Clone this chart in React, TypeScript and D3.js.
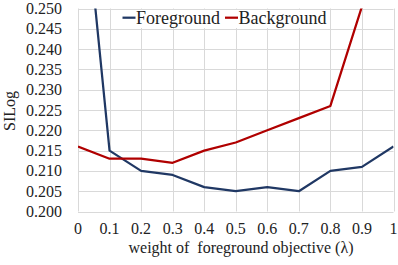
import { useEffect, useRef } from "react";
import * as d3 from "d3";

const lambdas = [0, 0.1, 0.2, 0.3, 0.4, 0.5, 0.6, 0.7, 0.8, 0.9, 1];
const foreground = [0.293, 0.215, 0.21, 0.209, 0.206, 0.205, 0.206, 0.205, 0.21, 0.211, 0.216];
const background = [0.216, 0.213, 0.213, 0.212, 0.215, 0.217, 0.22, 0.223, 0.226, 0.2505, 0.262];
const xTicks = [0, 0.1, 0.2, 0.3, 0.4, 0.5, 0.6, 0.7, 0.8, 0.9, 1];
const yTicks = [0.2, 0.205, 0.21, 0.215, 0.22, 0.225, 0.23, 0.235, 0.24, 0.245, 0.25];

const seriesList = [
  { name: "Foreground", values: foreground, color: "#203864" },
  { name: "Background", values: background, color: "#B00000" },
];

const W = 398;
const H = 265;

const App = () => {
  const svgRef = useRef<SVGSVGElement>(null);

  useEffect(() => {
    const svg = d3.select(svgRef.current);
    svg.selectAll("*").remove();

    const margin = { top: 8.5, right: 4.5, bottom: 53.5, left: 78 };
    const innerW = W - margin.left - margin.right;
    const innerH = H - margin.top - margin.bottom;

    const x = d3.scaleLinear().domain([0, 1]).range([margin.left, margin.left + innerW]);
    const y = d3.scaleLinear().domain([0.2, 0.25]).range([margin.top + innerH, margin.top]);

    // clip to plot area
    svg
      .append("defs")
      .append("clipPath")
      .attr("id", "plot-clip")
      .append("rect")
      .attr("x", margin.left)
      .attr("y", margin.top)
      .attr("width", innerW)
      .attr("height", innerH);

    // gridlines
    const grid = svg.append("g").attr("stroke", "#d9d9d9").attr("stroke-width", 1);
    grid
      .selectAll("line.h")
      .data(yTicks)
      .join("line")
      .attr("class", "h")
      .attr("x1", margin.left)
      .attr("x2", margin.left + innerW)
      .attr("y1", (d) => Math.round(y(d)) + 0.5)
      .attr("y2", (d) => Math.round(y(d)) + 0.5);
    grid
      .selectAll("line.v")
      .data(xTicks)
      .join("line")
      .attr("class", "v")
      .attr("x1", (d) => Math.round(x(d)) + 0.5)
      .attr("x2", (d) => Math.round(x(d)) + 0.5)
      .attr("y1", margin.top)
      .attr("y2", margin.top + innerH);

    // tick labels
    svg
      .append("g")
      .selectAll("text")
      .data(yTicks)
      .join("text")
      .attr("x", 62)
      .attr("y", (d) => y(d) + 5.5)
      .attr("text-anchor", "end")
      .attr("fill", "#222")
      .text((d) => d3.format(".3f")(d));

    svg
      .append("g")
      .selectAll("text")
      .data(xTicks)
      .join("text")
      .attr("x", (d) => x(d))
      .attr("y", 234)
      .attr("text-anchor", "middle")
      .attr("fill", "#222")
      .text((d) => String(d));

    // axis titles
    svg
      .append("text")
      .attr("x", 241)
      .attr("y", 253)
      .attr("text-anchor", "middle")
      .attr("fill", "#222")
      .style("white-space", "pre")
      .text("weight of  foreground objective (λ)");

    svg
      .append("text")
      .attr("transform", "translate(15,111) rotate(-90)")
      .attr("text-anchor", "middle")
      .attr("fill", "#222")
      .text("SILog");

    // lines
    const line = d3
      .line<number>()
      .x((_, i) => x(lambdas[i]))
      .y((d) => y(d));

    svg
      .append("g")
      .attr("clip-path", "url(#plot-clip)")
      .selectAll("path")
      .data(seriesList)
      .join("path")
      .attr("fill", "none")
      .attr("stroke", (d) => d.color)
      .attr("stroke-width", 2.25)
      .attr("stroke-linejoin", "round")
      .attr("d", (d) => line(d.values));

    // legend
    const legendItems = [
      { ...seriesList[0], x0: 122.5 },
      { ...seriesList[1], x0: 225 },
    ];
    const legend = svg.append("g");
    legendItems.forEach((item) => {
      const g = legend.append("g");
      g.append("rect").attr("x", item.x0 - 2).attr("y", 10).attr("width", 104).attr("height", 18).attr("fill", "#fff");
      g.append("line")
        .attr("x1", item.x0)
        .attr("x2", item.x0 + 13)
        .attr("y1", 17.7)
        .attr("y2", 17.7)
        .attr("stroke", item.color)
        .attr("stroke-width", 2.25);
      g.append("text")
        .attr("x", item.x0 + 13.5)
        .attr("y", 23.5)
        .style("font-size", "18px")
        .attr("fill", "#222")
        .text(item.name);
    });
  }, []);

  return (
    <svg
      ref={svgRef}
      width={W}
      height={H}
      style={{
        position: "absolute",
        left: 0,
        top: 0,
        background: "#fff",
        fontFamily: "Liberation Serif",
        fontSize: 16,
      }}
    />
  );
};

export default App;
